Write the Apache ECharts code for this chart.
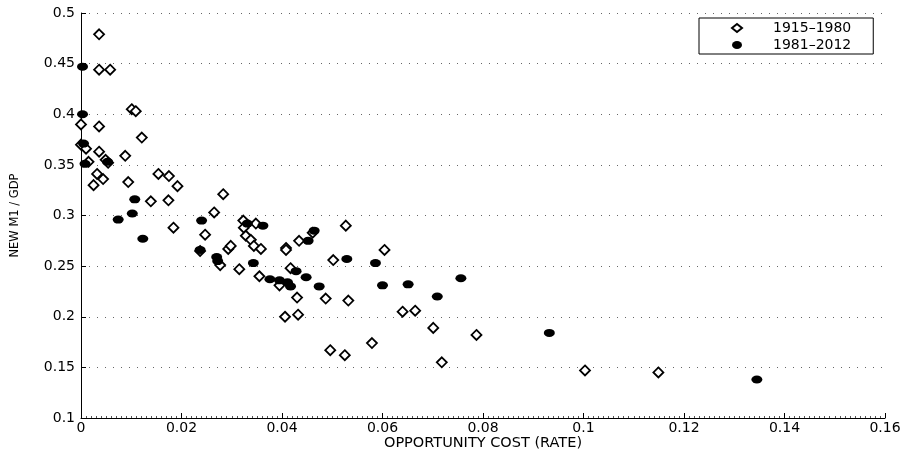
<!DOCTYPE html>
<html><head><meta charset="utf-8">
<script src="https://cdn.jsdelivr.net/npm/echarts@6/dist/echarts.min.js"></script>
<style>html,body{margin:0;padding:0;background:#fff}#c{width:906px;height:458px}</style>
</head><body><div id="c"></div>
<script>
const seriesNames = ['1915–1980', '1981–2012'];
const xAxisTitle = 'OPPORTUNITY COST (RATE)';
const yAxisTitle = 'NEW M1 / GDP';

// 1915–1980 (open diamonds): opportunity cost, new M1/GDP
const cost1915 = [0.0036,0.0036,0.0058,0.0101,0.0109,0.0000,0.0036,0.0121,0.0000,0.0010,
  0.0036,0.0088,0.0015,0.0049,0.0054,0.0032,0.0025,0.0044,0.0094,0.0139,
  0.0154,0.0175,0.0192,0.0174,0.0184,0.0283,0.0265,0.0247,0.0237,0.0277,
  0.0293,0.0298,0.0315,0.0323,0.0324,0.0348,0.0328,0.0338,0.0344,0.0358,
  0.0355,0.0395,0.0408,0.0408,0.0417,0.0434,0.0461,0.0430,0.0406,0.0432,
  0.0487,0.0502,0.0527,0.0532,0.0604,0.0640,0.0665,0.0701,0.0787,0.1003,
  0.1149,0.0496,0.0525,0.0579,0.0718];
const m1_1915 = [0.479,0.444,0.444,0.405,0.403,0.390,0.388,0.377,0.370,0.366,
  0.363,0.359,0.353,0.355,0.352,0.341,0.330,0.336,0.333,0.314,
  0.341,0.339,0.329,0.315,0.288,0.321,0.303,0.281,0.265,0.251,
  0.267,0.270,0.247,0.295,0.288,0.292,0.280,0.276,0.270,0.267,
  0.240,0.231,0.268,0.266,0.248,0.275,0.283,0.219,0.200,0.202,
  0.218,0.256,0.290,0.216,0.266,0.205,0.206,0.189,0.182,0.147,
  0.145,0.167,0.162,0.174,0.155];

// 1981–2012 (filled dots)
const cost1981 = [0.0003,0.0003,0.0005,0.0008,0.0053,0.0107,0.0074,0.0102,0.0123,0.0240,
  0.0237,0.0270,0.0272,0.0331,0.0362,0.0343,0.0376,0.0395,0.0411,0.0417,
  0.0428,0.0448,0.0452,0.0464,0.0474,0.0529,0.0586,0.0600,0.0651,0.0709,
  0.0756,0.0932,0.1345];
const m1_1981 = [0.447,0.400,0.371,0.351,0.353,0.316,0.296,0.302,0.277,0.295,
  0.266,0.259,0.255,0.292,0.290,0.253,0.237,0.236,0.234,0.230,
  0.245,0.239,0.275,0.285,0.230,0.257,0.253,0.231,0.232,0.220,
  0.238,0.184,0.138];

const FONT = 'DejaVu Sans';
const ellipse = 'path://M0,10A10,10 0 1,1 20,10A10,10 0 1,1 0,10Z';

const chart = echarts.init(document.getElementById('c'), null, {renderer: 'canvas'});
chart.setOption({
  animation: false,
  backgroundColor: '#fff',
  grid: {left: 81, right: 21, top: 13, bottom: 40},
  legend: {
    orient: 'vertical',
    left: 699, top: 18,
    padding: [2, 22, 1, 32],
    itemGap: 1,
    itemWidth: 10, itemHeight: 8,
    symbolKeepAspect: false,
    borderColor: '#000', borderWidth: 1,
    backgroundColor: '#fff',
    textStyle: {fontFamily: FONT, fontSize: 14, color: '#000', lineHeight: 16, padding: [0, 0, 0, 26]},
    data: [{name: seriesNames[0], icon: 'diamond'}, {name: seriesNames[1], icon: ellipse}]
  },
  xAxis: {
    type: 'value', min: 0, max: 0.16, interval: 0.02,
    name: xAxisTitle, nameLocation: 'middle', nameGap: 18, nameMoveOverlap: false,
    nameTextStyle: {fontFamily: FONT, fontSize: 14.5, color: '#000'},
    axisLine: {show: true, onZero: false, lineStyle: {color: '#000', width: 1}},
    axisTick: {show: true, inside: true, length: 5, lineStyle: {color: '#000'}},
    minorTick: {show: true, splitNumber: 20, length: 2, lineStyle: {color: '#555'}},
    axisLabel: {fontFamily: FONT, fontSize: 14, color: '#000', margin: 3},
    splitLine: {show: false}
  },
  yAxis: {
    type: 'value', min: 0.1, max: 0.5, interval: 0.05,
    name: yAxisTitle, nameLocation: 'middle', nameGap: 60, nameMoveOverlap: false,
    nameTextStyle: {fontFamily: FONT, fontSize: 11.5, color: '#000'},
    axisLine: {show: true, onZero: false, lineStyle: {color: '#000', width: 1}},
    axisTick: {show: true, inside: true, length: 5, lineStyle: {color: '#000'}},
    axisLabel: {fontFamily: FONT, fontSize: 14, color: '#000', margin: 6},
    splitLine: {show: true, lineStyle: {color: '#666', width: 1, type: [1, 7]}}
  },
  series: [
    {
      name: seriesNames[0], type: 'scatter',
      data: cost1915.map((x, i) => [x, m1_1915[i]]),
      symbol: 'diamond', symbolSize: [10, 10],
      itemStyle: {color: '#fff', borderColor: '#000', borderWidth: 1.8, opacity: 1},
      z: 2
    },
    {
      name: seriesNames[1], type: 'scatter',
      data: cost1981.map((x, i) => [x, m1_1981[i]]),
      symbol: ellipse, symbolSize: [11, 8],
      itemStyle: {color: '#000', opacity: 1},
      z: 3
    }
  ]
});
</script>
</body></html>
